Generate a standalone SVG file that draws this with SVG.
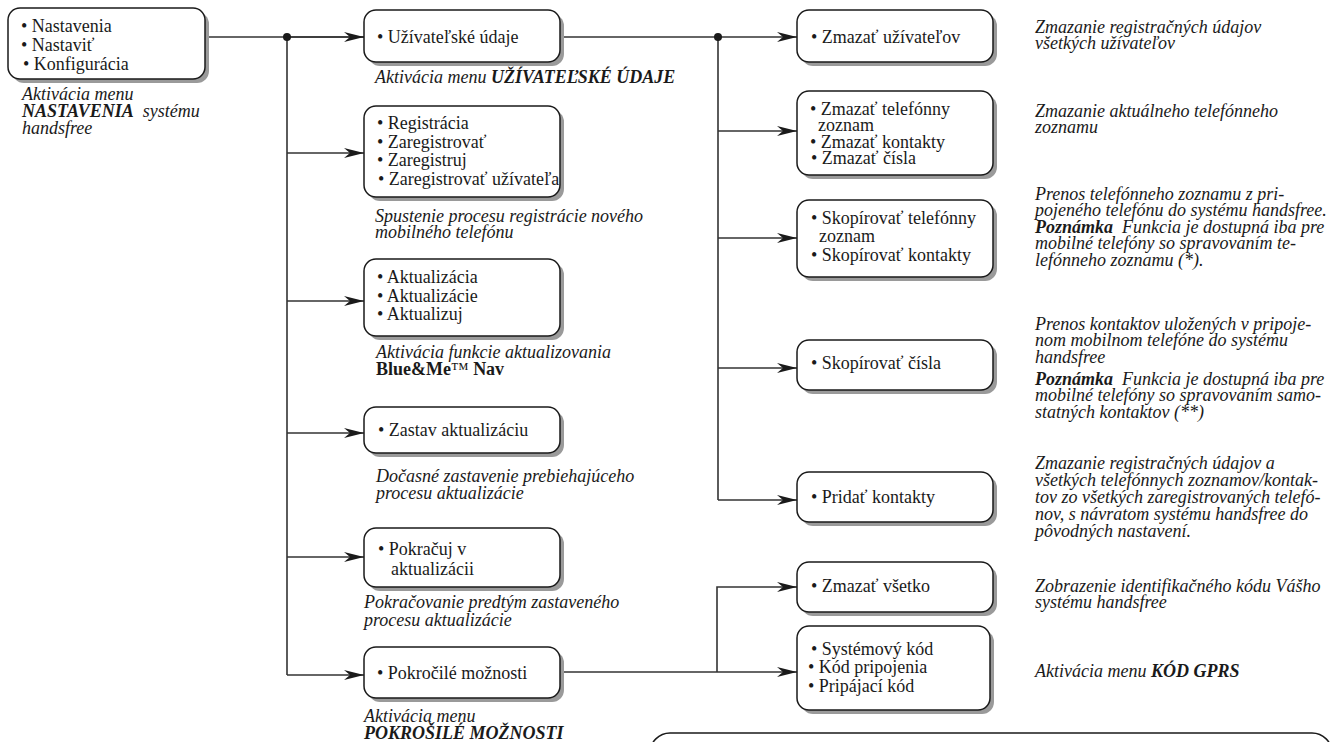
<svg xmlns="http://www.w3.org/2000/svg" width="1336" height="742" viewBox="0 0 1336 742">
<style>
.sh{fill:#9a9a9a}
.bx{fill:#fff;stroke:#1a1a1a;stroke-width:1.5}
.t{font-family:"Liberation Serif","Times New Roman",serif;font-size:18px;fill:#1a1a1a}
.i{font-style:italic}
.b{font-weight:bold}
.c{stroke:#333;stroke-width:1.6;fill:none}
</style>
<defs>
<marker id="ar" viewBox="0 0 20 10" refX="20" refY="5" markerWidth="20" markerHeight="10" markerUnits="userSpaceOnUse" orient="auto">
<path d="M0,0 L20,5 L0,10 L6,5 Z" fill="#1a1a1a"/>
</marker>
</defs>
<rect width="1336" height="742" fill="#fff"/>

<g id="connectors">
<path class="c" d="M205,37 H718"/>
<path class="c" d="M287,37 V675"/>
<path class="c" d="M287,37 H364" marker-end="url(#ar)"/>
<path class="c" d="M287,153 H364" marker-end="url(#ar)"/>
<path class="c" d="M287,301 H364" marker-end="url(#ar)"/>
<path class="c" d="M287,433 H364" marker-end="url(#ar)"/>
<path class="c" d="M287,557 H364" marker-end="url(#ar)"/>
<path class="c" d="M287,675 H364" marker-end="url(#ar)"/>
<circle cx="287" cy="37" r="4" fill="#1a1a1a"/>
<path class="c" d="M718,37 V500"/>
<path class="c" d="M718,37 H797" marker-end="url(#ar)"/>
<path class="c" d="M718,131 H797" marker-end="url(#ar)"/>
<path class="c" d="M718,238 H797" marker-end="url(#ar)"/>
<path class="c" d="M718,368 H797" marker-end="url(#ar)"/>
<path class="c" d="M718,500 H797" marker-end="url(#ar)"/>
<circle cx="718" cy="37" r="4" fill="#1a1a1a"/>
<path class="c" d="M560,672 H797" marker-end="url(#ar)"/>
<path class="c" d="M717,672 V587 H797" marker-end="url(#ar)"/>
</g>

<g id="n-nastavenia">
<rect class="sh" x="12" y="12" width="197" height="71" rx="12"/>
<rect class="bx" x="8" y="8" width="197" height="71" rx="12"/>
<text class="t" x="21" y="32">• Nastavenia</text>
<text class="t" x="21" y="51">• Nastaviť</text>
<text class="t" x="23" y="70">• Konfigurácia</text>
<text class="t i" x="22" y="100">Aktivácia menu</text>
<text class="t i" x="22" y="117"><tspan class="b">NASTAVENIA</tspan>&#160; systému</text>
<text class="t i" x="22" y="134">handsfree</text>
</g>

<g id="n-uzivatelske">
<rect class="sh" x="368" y="14" width="196" height="52" rx="12"/>
<rect class="bx" x="364" y="10" width="196" height="52" rx="12"/>
<text class="t" x="377" y="43">• Užívateľské údaje</text>
<text class="t i" x="375" y="83">Aktivácia menu <tspan class="b">UŽÍVATEĽSKÉ ÚDAJE</tspan></text>
</g>

<g id="n-registracia">
<rect class="sh" x="368" y="110" width="196" height="91" rx="12"/>
<rect class="bx" x="364" y="106" width="196" height="91" rx="12"/>
<text class="t" x="377" y="129">• Registrácia</text>
<text class="t" x="377" y="148">• Zaregistrovať</text>
<text class="t" x="377" y="166">• Zaregistruj</text>
<text class="t" x="378" y="185">• Zaregistrovať užívateľa</text>
<text class="t i" x="375" y="222">Spustenie procesu registrácie nového</text>
<text class="t i" x="375" y="238">mobilného telefónu</text>
</g>

<g id="n-aktualizacia">
<rect class="sh" x="368" y="263" width="196" height="77" rx="12"/>
<rect class="bx" x="364" y="259" width="196" height="77" rx="12"/>
<text class="t" x="377" y="283">• Aktualizácia</text>
<text class="t" x="377" y="302">• Aktualizácie</text>
<text class="t" x="377" y="320">• Aktualizuj</text>
<text class="t i" x="376" y="358">Aktivácia funkcie aktualizovania</text>
<text class="t" x="376" y="375"><tspan class="b">Blue&amp;Me</tspan>™ <tspan class="b">Nav</tspan></text>
</g>

<g id="n-zastav">
<rect class="sh" x="368" y="411" width="196" height="46" rx="12"/>
<rect class="bx" x="364" y="407" width="196" height="46" rx="12"/>
<text class="t" x="378" y="436">• Zastav aktualizáciu</text>
<text class="t i" x="376" y="482">Dočasné zastavenie prebiehajúceho</text>
<text class="t i" x="376" y="499">procesu aktualizácie</text>
</g>

<g id="n-pokracuj">
<rect class="sh" x="368" y="532" width="196" height="59" rx="12"/>
<rect class="bx" x="364" y="528" width="196" height="59" rx="12"/>
<text class="t" x="378" y="555">• Pokračuj v</text>
<text class="t" x="391" y="575">aktualizácii</text>
<text class="t i" x="364" y="608">Pokračovanie predtým zastaveného</text>
<text class="t i" x="364" y="626">procesu aktualizácie</text>
</g>

<g id="n-pokrocile">
<rect class="sh" x="368" y="651" width="196" height="51" rx="12"/>
<rect class="bx" x="364" y="647" width="196" height="51" rx="12"/>
<text class="t" x="377" y="679">• Pokročilé možnosti</text>
<text class="t i" x="364" y="722">Aktivácia menu</text>
<text class="t i b" x="364" y="739">POKROŠILÉ MOŽNOSTI</text>
</g>

<g id="n-zmazat-uzivatelov">
<rect class="sh" x="801" y="14" width="196" height="52" rx="12"/>
<rect class="bx" x="797" y="10" width="196" height="52" rx="12"/>
<text class="t" x="811" y="43">• Zmazať užívateľov</text>
<text class="t i" x="1035" y="33">Zmazanie registračných údajov</text>
<text class="t i" x="1035" y="49">všetkých užívateľov</text>
</g>

<g id="n-zmazat-telefonny">
<rect class="sh" x="801" y="95" width="196" height="84" rx="12"/>
<rect class="bx" x="797" y="91" width="196" height="84" rx="12"/>
<text class="t" x="810" y="115">• Zmazať telefónny</text>
<text class="t" x="818" y="131">zoznam</text>
<text class="t" x="810" y="148">• Zmazať kontakty</text>
<text class="t" x="811" y="164">• Zmazať čísla</text>
<text class="t i" x="1035" y="117">Zmazanie aktuálneho telefónneho</text>
<text class="t i" x="1035" y="133">zoznamu</text>
</g>

<g id="n-skopirovat-telefonny">
<rect class="sh" x="801" y="204" width="196" height="77" rx="12"/>
<rect class="bx" x="797" y="200" width="196" height="77" rx="12"/>
<text class="t" x="811" y="224">• Skopírovať telefónny</text>
<text class="t" x="819" y="242">zoznam</text>
<text class="t" x="811" y="261">• Skopírovať kontakty</text>
<text class="t i" x="1035" y="200">Prenos telefónneho zoznamu z pri-</text>
<text class="t i" x="1035" y="216">pojeného telefónu do systému handsfree.</text>
<text class="t i" x="1035" y="233"><tspan class="b">Poznámka</tspan>&#160; Funkcia je dostupná iba pre</text>
<text class="t i" x="1035" y="249">mobilné telefóny so spravovaním te-</text>
<text class="t i" x="1035" y="266">lefónneho zoznamu (*).</text>
</g>

<g id="n-skopirovat-cisla">
<rect class="sh" x="801" y="344" width="196" height="50" rx="12"/>
<rect class="bx" x="797" y="340" width="196" height="50" rx="12"/>
<text class="t" x="811" y="369">• Skopírovať čísla</text>
<text class="t i" x="1035" y="330">Prenos kontaktov uložených v pripoje-</text>
<text class="t i" x="1035" y="346">nom mobilnom telefóne do systému</text>
<text class="t i" x="1035" y="363">handsfree</text>
<text class="t i" x="1035" y="385"><tspan class="b">Poznámka</tspan>&#160; Funkcia je dostupná iba pre</text>
<text class="t i" x="1035" y="401">mobilné telefóny so spravovaním samo-</text>
<text class="t i" x="1035" y="418">statných kontaktov (**)</text>
</g>

<g id="n-pridat-kontakty">
<rect class="sh" x="801" y="476" width="196" height="50" rx="12"/>
<rect class="bx" x="797" y="472" width="196" height="50" rx="12"/>
<text class="t" x="811" y="503">• Pridať kontakty</text>
<text class="t i" x="1035" y="469">Zmazanie registračných údajov a</text>
<text class="t i" x="1035" y="486">všetkých telefónnych zoznamov/kontak-</text>
<text class="t i" x="1035" y="503">tov zo všetkých zaregistrovaných telefó-</text>
<text class="t i" x="1035" y="520">nov, s návratom systému handsfree do</text>
<text class="t i" x="1035" y="537">pôvodných nastavení.</text>
</g>

<g id="n-zmazat-vsetko">
<rect class="sh" x="801" y="566" width="196" height="50" rx="12"/>
<rect class="bx" x="797" y="562" width="196" height="50" rx="12"/>
<text class="t" x="811" y="592">• Zmazať všetko</text>
<text class="t i" x="1035" y="592">Zobrazenie identifikačného kódu Vášho</text>
<text class="t i" x="1035" y="608">systému handsfree</text>
</g>

<g id="n-systemovy-kod">
<rect class="sh" x="801" y="630" width="193" height="84" rx="12"/>
<rect class="bx" x="797" y="626" width="193" height="84" rx="12"/>
<text class="t" x="811" y="655">• Systémový kód</text>
<text class="t" x="808" y="673">• Kód pripojenia</text>
<text class="t" x="808" y="692">• Pripájací kód</text>
<text class="t i" x="1035" y="677">Aktivácia menu <tspan class="b">KÓD GPRS</tspan></text>
</g>

<g id="n-bottom-box">
<rect fill="none" stroke="#1a1a1a" stroke-width="1.5" x="650" y="733" width="682" height="40" rx="20"/>
</g>
</svg>
